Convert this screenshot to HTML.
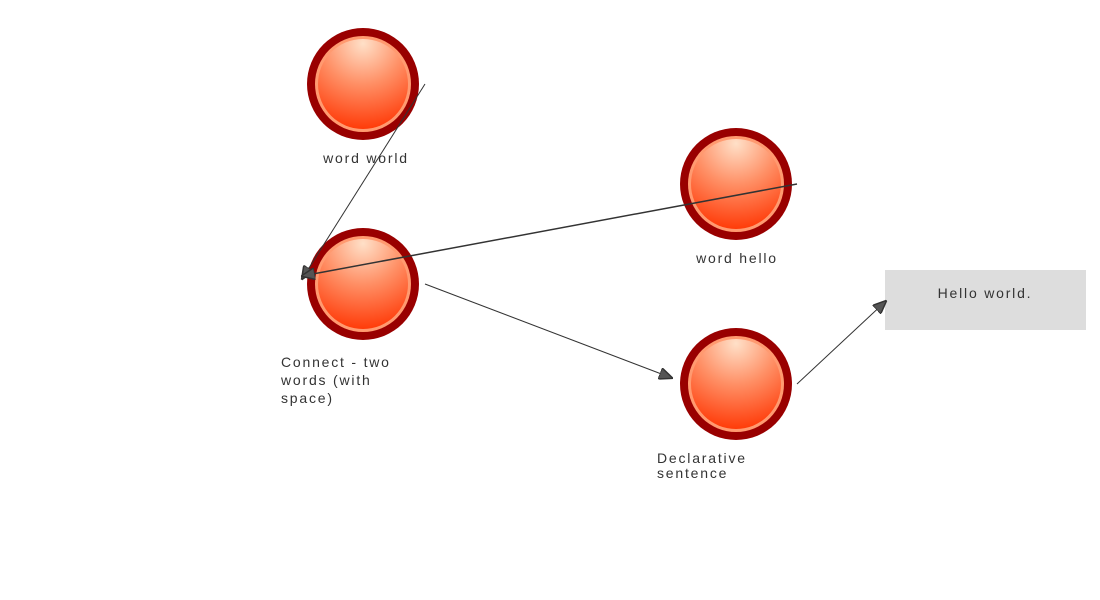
<!DOCTYPE html>
<html><head><style>body{margin:0;background:#fff}svg{display:block}text{font-family:"Liberation Sans",sans-serif;font-size:14px;fill:#333;letter-spacing:1.8px}</style></head><body>
<svg width="1100" height="600" viewBox="0 0 1100 600">
<defs>
<radialGradient id="g" cx="0.5" cy="0.05" r="1" fx="0.5" fy="0.05"><stop offset="0" stop-color="#ffe0c8"/><stop offset="0.45" stop-color="#ff9066"/><stop offset="1" stop-color="#ff3300"/></radialGradient>
<marker id="a" markerWidth="14" markerHeight="12" refX="13" refY="6" orient="auto" markerUnits="userSpaceOnUse"><path d="M0,0 L14,6 L0,12 z" fill="#555" stroke="#333" stroke-width="1.5"/></marker>
<g id="c"><circle r="56" fill="#990000"/><circle r="48" fill="#ff9a70"/><circle r="45" fill="url(#g)"/></g>
</defs>
<use href="#c" x="363" y="84"/><use href="#c" x="736" y="184"/><use href="#c" x="363" y="284"/><use href="#c" x="736" y="384"/>
<rect x="885" y="270" width="201" height="60" fill="#dddddd"/>
<text x="985" y="298" text-anchor="middle">Hello world.</text>
<g stroke="#333" stroke-width="1" fill="none">
<line x1="425" y1="84" x2="302" y2="279" marker-end="url(#a)"/>
<line x1="797" y1="184" x2="302" y2="276" marker-end="url(#a)" stroke-width="1.5"/>
<line x1="425" y1="284" x2="672" y2="378" marker-end="url(#a)"/>
<line x1="797" y1="384" x2="886" y2="301" marker-end="url(#a)"/>
</g>
<text x="366" y="163" text-anchor="middle">word world</text>
<text x="737" y="263" text-anchor="middle">word hello</text>
<text x="281" y="367">Connect - two</text>
<text x="281" y="385">words (with</text>
<text x="281" y="403">space)</text>
<text x="657" y="463">Declarative</text>
<text x="657" y="478">sentence</text>
</svg>
</body></html>
